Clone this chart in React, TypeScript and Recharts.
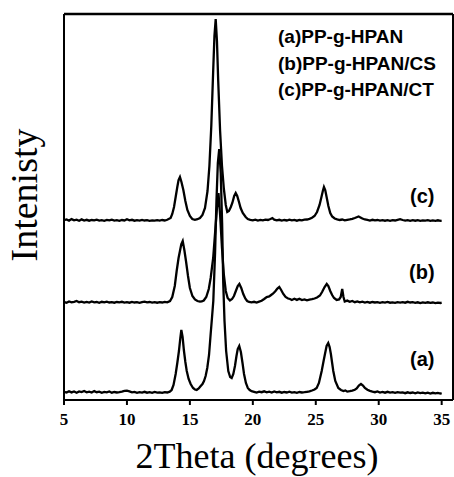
import { LineChart, Line, XAxis, YAxis, ReferenceLine } from "recharts";

// [2theta, intensity above own baseline]
const traceA = [
  [5.0, 1.2], [5.2, 0.4], [5.4, 1.8], [5.6, 0.6], [5.8, 1.5], [6.0, 0.3], [6.2, 1.6], [6.4, 0.9],
  [6.6, 2.0], [6.8, 0.7], [7.0, 1.4], [7.2, 0.5], [7.4, 1.9], [7.6, 0.8], [7.8, 1.3], [8.0, 0.2],
  [8.2, 1.1], [8.4, 0.6], [8.6, 1.5], [8.8, 0.3], [9.0, 1.0], [9.2, 0.5], [9.4, 0.9], [9.6, 1.4],
  [9.8, 2.1], [10.0, 2.4], [10.2, 1.6], [10.4, 0.7], [10.6, 1.1], [10.8, 0.2], [11.0, 0.9], [11.2, 0.4],
  [11.4, 1.2], [11.6, 0.3], [11.8, 0.8], [12.0, 0.1], [12.2, 1.0], [12.4, 0.4], [12.6, 0.7], [12.8, 0.2],
  [13.0, 0.9], [13.2, 0.5], [13.4, 1.3], [13.55, 3], [13.7, 8], [13.87, 19], [14.0, 30], [14.13, 42],
  [14.24, 55], [14.32, 63], [14.42, 56], [14.53, 42], [14.64, 31], [14.75, 22], [14.9, 14], [15.06, 9],
  [15.25, 5], [15.4, 3.5], [15.54, 3], [15.7, 4.5], [15.86, 7], [16.0, 9], [16.12, 12], [16.25, 17],
  [16.38, 25], [16.52, 38], [16.65, 59], [16.76, 76], [16.86, 92], [17.0, 140], [17.11, 192], [17.22, 230],
  [17.33, 244], [17.45, 220], [17.56, 170], [17.65, 110], [17.75, 72], [17.88, 42], [18.05, 22], [18.2, 16],
  [18.32, 15], [18.45, 19], [18.58, 27], [18.7, 37], [18.8, 44], [18.92, 47], [19.05, 41], [19.18, 30],
  [19.3, 19], [19.45, 10], [19.6, 5], [19.75, 3], [19.9, 1.8], [20.1, 1.2], [20.3, 0.5], [20.5, 1.4],
  [20.7, 0.8], [20.9, 1.7], [21.1, 0.6], [21.3, 1.3], [21.5, 0.4], [21.7, 1.5], [21.9, 0.7], [22.1, 1.2],
  [22.3, 0.3], [22.5, 1.0], [22.7, 0.5], [22.9, 1.3], [23.1, 0.4], [23.3, 0.9], [23.5, 0.2], [23.7, 1.0],
  [23.9, 0.5], [24.1, 0.8], [24.3, 1.2], [24.5, 1.6], [24.7, 2.5], [24.9, 3.5], [25.07, 5], [25.25, 10],
  [25.47, 22], [25.62, 32], [25.73, 39], [25.86, 47], [25.99, 50], [26.1, 46], [26.2, 39], [26.3, 30],
  [26.39, 22], [26.55, 12], [26.79, 5], [27.0, 3], [27.2, 2], [27.35, 2.6], [27.5, 1.4], [27.7, 1.8],
  [27.9, 2.4], [28.1, 3.2], [28.25, 4.5], [28.42, 7.5], [28.59, 9], [28.75, 7.5], [28.9, 5], [29.1, 3.2],
  [29.3, 2.2], [29.5, 1.4], [29.7, 0.8], [29.9, 1.5], [30.1, 0.5], [30.3, 1.1], [30.5, 0.3], [30.7, 1.2],
  [30.9, 0.4], [31.1, 0.9], [31.3, 0.1], [31.5, 0.8], [31.7, 0.3], [31.9, 0.6], [32.1, -0.2], [32.3, 0.7],
  [32.5, 0.0], [32.7, 0.5], [32.9, -0.3], [33.1, 0.6], [33.3, -0.1], [33.5, 0.4], [33.7, -0.4], [33.9, 0.3],
  [34.1, -0.5], [34.3, 0.2], [34.5, -0.3], [34.7, 0.1], [34.9, -0.6], [35.0, -0.2],
];

const traceB = [
  [5.0, 1.0], [5.2, 0.3], [5.4, 1.5], [5.6, 0.6], [5.8, 1.2], [6.0, 2.0], [6.2, 0.8], [6.4, 1.3],
  [6.6, 0.4], [6.8, 1.1], [7.0, 0.5], [7.2, 1.6], [7.4, 0.7], [7.6, 1.0], [7.8, 0.2], [8.0, 1.2],
  [8.2, 0.6], [8.4, 1.4], [8.6, 0.5], [8.8, 0.9], [9.0, 0.3], [9.2, 1.0], [9.4, 0.6], [9.6, 1.2],
  [9.8, 0.4], [10.0, 0.8], [10.2, 0.3], [10.4, 1.1], [10.6, 0.5], [10.8, 0.9], [11.0, 0.2], [11.2, 0.8],
  [11.4, 1.4], [11.6, 0.6], [11.8, 1.0], [12.0, 0.4], [12.2, 0.9], [12.4, 0.3], [12.6, 0.8], [12.8, 0.5],
  [13.0, 1.1], [13.2, 0.7], [13.42, 2], [13.6, 6], [13.8, 17], [13.95, 32], [14.1, 45], [14.21, 52],
  [14.32, 59], [14.43, 62], [14.56, 53], [14.69, 42], [14.85, 27], [15.0, 15], [15.2, 7], [15.4, 3.5],
  [15.6, 2], [15.8, 1.3], [15.94, 1.5], [16.1, 2.5], [16.3, 6], [16.5, 14], [16.65, 25], [16.85, 45],
  [17.0, 70], [17.15, 95], [17.27, 110], [17.4, 88], [17.55, 55], [17.7, 28], [17.85, 12], [18.0, 5],
  [18.18, 2.5], [18.35, 4], [18.5, 7], [18.65, 12], [18.8, 17], [18.93, 19], [19.08, 15], [19.24, 9],
  [19.4, 4.5], [19.55, 2], [19.7, 1.0], [19.9, 0.6], [20.1, 1.2], [20.3, 0.5], [20.5, 1.4], [20.7, 2.2],
  [20.9, 4], [21.1, 6], [21.3, 6.5], [21.45, 8], [21.62, 9.5], [21.8, 12], [21.95, 14.5], [22.1, 16],
  [22.25, 13], [22.42, 9], [22.6, 6], [22.8, 4.5], [22.95, 4], [23.1, 3], [23.3, 4.2], [23.5, 3.1],
  [23.7, 4.3], [23.9, 3.0], [24.1, 3.6], [24.3, 2.6], [24.5, 3.4], [24.7, 3.8], [24.9, 4.5], [25.1, 5.5],
  [25.33, 7.5], [25.5, 11], [25.7, 16], [25.87, 19], [26.0, 17], [26.15, 12], [26.3, 8], [26.45, 5],
  [26.66, 3], [26.85, 3.5], [26.98, 6], [27.1, 14], [27.2, 6], [27.3, 1.5], [27.5, 2.4], [27.7, 1.2],
  [27.9, 2.0], [28.1, 0.8], [28.3, 1.6], [28.5, 0.6], [28.7, 1.3], [28.9, 0.4], [29.1, 1.1], [29.3, 0.3],
  [29.5, 1.0], [29.7, 0.5], [29.9, 0.9], [30.1, 0.2], [30.3, 0.8], [30.5, 0.4], [30.7, 1.0], [30.9, 0.3],
  [31.1, 0.7], [31.3, 0.1], [31.5, 0.8], [31.7, 0.4], [31.9, 0.9], [32.1, 0.3], [32.3, 1.2], [32.5, 0.5],
  [32.7, 0.8], [32.9, 0.2], [33.1, 0.7], [33.3, 0.0], [33.5, 0.6], [33.7, 0.2], [33.9, 0.7], [34.1, 0.1],
  [34.3, 0.5], [34.5, -0.1], [34.7, 0.4], [34.9, 0.0], [35.0, 0.3],
];

const traceC = [
  [5.0, 0.8], [5.2, 1.5], [5.4, 0.4], [5.6, 1.9], [5.8, 0.7], [6.0, 1.3], [6.2, 0.2], [6.4, 1.6],
  [6.6, 0.5], [6.8, 1.2], [7.0, 0.3], [7.2, 1.0], [7.4, 0.6], [7.6, 1.4], [7.8, 0.4], [8.0, 0.9],
  [8.2, 0.2], [8.4, 1.1], [8.6, 0.6], [8.8, 1.3], [9.0, 0.4], [9.2, 0.8], [9.4, 0.1], [9.6, 1.0],
  [9.8, 0.5], [10.0, 1.8], [10.2, 0.7], [10.4, 1.2], [10.6, 0.3], [10.8, 0.9], [11.0, 0.4], [11.2, 1.1],
  [11.4, 0.5], [11.6, 0.8], [11.8, 0.2], [12.0, 0.7], [12.2, 0.3], [12.4, 0.9], [12.6, 0.4], [12.8, 1.0],
  [13.0, 0.5], [13.2, 1.2], [13.47, 3], [13.6, 7], [13.74, 14], [13.87, 24], [14.0, 34], [14.1, 41],
  [14.21, 44], [14.33, 39], [14.48, 31], [14.64, 20], [14.8, 11], [15.0, 5], [15.19, 2], [15.4, 1.2],
  [15.6, 1.8], [15.8, 3], [16.0, 6], [16.2, 13], [16.4, 30], [16.55, 55], [16.7, 95], [16.85, 150],
  [16.95, 185], [17.05, 202], [17.15, 180], [17.25, 140], [17.4, 90], [17.55, 55], [17.7, 32], [17.85, 16],
  [17.97, 9], [18.1, 10], [18.25, 14], [18.37, 18], [18.52, 25], [18.64, 28], [18.76, 25], [18.9, 19],
  [19.03, 13], [19.2, 8], [19.43, 4], [19.6, 2], [19.8, 1.2], [20.0, 0.6], [20.2, 1.3], [20.4, 0.4],
  [20.6, 1.1], [20.8, 0.7], [21.0, 1.4], [21.2, 1.0], [21.4, 2.0], [21.55, 2.8], [21.7, 1.3], [21.9, 0.6],
  [22.1, 1.2], [22.3, 0.4], [22.5, 1.0], [22.7, 0.5], [22.9, 1.3], [23.1, 0.6], [23.3, 1.1], [23.5, 0.3],
  [23.7, 1.0], [23.9, 0.6], [24.1, 1.3], [24.3, 1.5], [24.5, 2.2], [24.7, 3.2], [24.9, 5], [25.1, 9],
  [25.3, 16], [25.45, 24], [25.56, 30], [25.65, 34], [25.75, 31], [25.86, 24], [26.0, 15], [26.15, 8],
  [26.3, 4.5], [26.5, 2.5], [26.7, 1.6], [26.9, 1.0], [27.1, 1.5], [27.3, 0.7], [27.5, 1.2], [27.7, 1.6],
  [27.9, 2.2], [28.1, 3.0], [28.25, 3.8], [28.4, 4.5], [28.55, 3.6], [28.7, 2.5], [28.9, 1.5], [29.1, 1.1],
  [29.3, 0.5], [29.5, 1.2], [29.7, 0.6], [29.9, 1.0], [30.1, 0.4], [30.3, 0.9], [30.5, 0.3], [30.7, 0.8],
  [30.9, 0.2], [31.1, 0.9], [31.3, 0.5], [31.5, 1.2], [31.7, 1.8], [31.9, 1.0], [32.1, 0.4], [32.3, 0.9],
  [32.5, 0.2], [32.7, 0.8], [32.9, 0.3], [33.1, 0.9], [33.3, 0.2], [33.5, 0.7], [33.7, 0.4], [33.9, 0.8],
  [34.1, 0.1], [34.3, 0.6], [34.5, 0.2], [34.7, 0.7], [34.9, 0.1], [35.0, 0.5],
];

// vertical stacking offsets of the patterns
const OFFSET_A = 7;
const OFFSET_B = 97;
const OFFSET_C = 179;

const xTicks = [5, 10, 15, 20, 25, 30, 35];
const legendLines = ["(a)PP-g-HPAN", "(b)PP-g-HPAN/CS", "(c)PP-g-HPAN/CT"];

const toPoints = (trace: number[][], offset: number) =>
  trace.map(([x, v]) => ({ x, y: v + offset }));

const dataA = toPoints(traceA, OFFSET_A);
const dataB = toPoints(traceB, OFFSET_B);
const dataC = toPoints(traceC, OFFSET_C);

const X_MAX = 35.9;
const Y_MAX = 386;

const sans = "'Liberation Sans', Arial, sans-serif";
const serif = "'Liberation Serif', 'Times New Roman', serif";

export default function App() {
  return (
    <div style={{ position: "absolute", left: 0, top: 0, background: "#fff" }}>
      <LineChart
        width={454}
        height={477}
        margin={{ top: 14, right: 1, bottom: 47, left: 64 }}
      >
        <XAxis
          type="number"
          dataKey="x"
          domain={[5, X_MAX]}
          ticks={xTicks}
          allowDataOverflow
          height={30}
          axisLine={{ stroke: "#000", strokeWidth: 2 }}
          tickLine={{ stroke: "#000", strokeWidth: 2 }}
          tickSize={5}
          tickMargin={8}
          tick={{
            fill: "#000",
            fontSize: 17,
            fontWeight: "bold",
            fontFamily: serif,
          }}
        />
        <YAxis type="number" domain={[0, Y_MAX]} hide allowDataOverflow />
        <ReferenceLine x={5} stroke="#000" strokeWidth={2} />
        <ReferenceLine x={X_MAX} stroke="#000" strokeWidth={2} />
        <ReferenceLine y={Y_MAX} stroke="#000" strokeWidth={2.5} />
        <Line
          data={dataA}
          dataKey="y"
          type="linear"
          stroke="#000"
          strokeWidth={2.3}
          dot={false}
          isAnimationActive={false}
        />
        <Line
          data={dataB}
          dataKey="y"
          type="linear"
          stroke="#000"
          strokeWidth={2.3}
          dot={false}
          isAnimationActive={false}
        />
        <Line
          data={dataC}
          dataKey="y"
          type="linear"
          stroke="#000"
          strokeWidth={2.3}
          dot={false}
          isAnimationActive={false}
        />
        {legendLines.map((t, i) => (
          <text
            key={t}
            x={278}
            y={43 + i * 26.5}
            fontFamily={sans}
            fontWeight="bold"
            fontSize={19}
            fill="#000"
          >
            {t}
          </text>
        ))}
        <text x={410} y={203} fontFamily={sans} fontWeight="bold" fontSize={20} fill="#000">
          (c)
        </text>
        <text x={409} y={279} fontFamily={sans} fontWeight="bold" fontSize={20} fill="#000">
          (b)
        </text>
        <text x={410} y={366} fontFamily={sans} fontWeight="bold" fontSize={20} fill="#000">
          (a)
        </text>
        <text
          x={257}
          y={468}
          textAnchor="middle"
          fontFamily={serif}
          fontSize={36}
          fill="#000"
        >
          2Theta (degrees)
        </text>
        <text
          transform="translate(37,195) rotate(-90)"
          textAnchor="middle"
          fontFamily={serif}
          fontSize={38}
          fill="#000"
        >
          Intenisty
        </text>
      </LineChart>
    </div>
  );
}
